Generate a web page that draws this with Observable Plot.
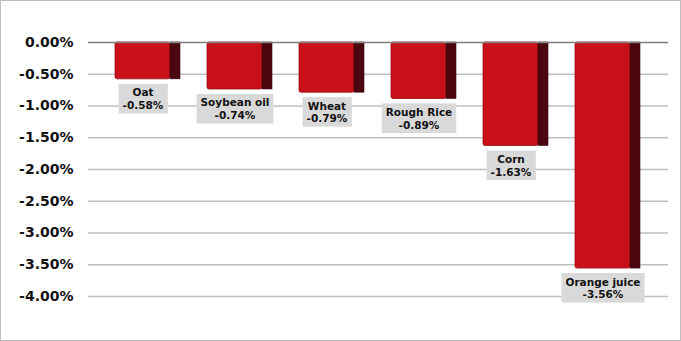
<!DOCTYPE html>
<html><head><meta charset="utf-8">
<script src="https://cdn.jsdelivr.net/npm/d3@7"></script>
<script src="https://cdn.jsdelivr.net/npm/@observablehq/plot@0.6"></script>
<style>
html,body{margin:0;padding:0;background:#fff;}
#wrap{position:relative;width:681px;height:341px;overflow:hidden;}
#border{position:absolute;left:0;top:0;width:681px;height:341px;box-sizing:border-box;border:1px solid #bfbfbf;pointer-events:none;}
svg{display:block;}
</style></head>
<body>
<div id="wrap"><div id="border"></div></div>
<script>
const categories = ["Oat", "Soybean oil", "Wheat", "Rough Rice", "Corn", "Orange juice"];
const values = [-0.58, -0.74, -0.79, -0.89, -1.63, -3.56];
const yTicks = [0, -0.5, -1, -1.5, -2, -2.5, -3, -3.5, -4];

const data = categories.map((c, i) => ({cat: c, v: values[i], label: c + "\n" + values[i].toFixed(2) + "%"}));

const chart = Plot.plot({
  width: 681, height: 341,
  marginLeft: 88, marginRight: 13, marginTop: 42, marginBottom: 45,
  style: {fontFamily: "DejaVu Sans", background: "transparent"},
  x: {domain: categories, padding: 0.29, axis: null},
  y: {domain: [-4, 0], ticks: yTicks, tickFormat: d => d.toFixed(2) + "%", label: null, tickSize: 0, tickPadding: 15},
  marks: [
    Plot.ruleY(yTicks.filter(d => d !== 0), {stroke: "#bfbfbf", strokeWidth: 1.5, strokeOpacity: 1}),
    Plot.barY(data, {x: "cat", y: "v", fill: "#c8101b", insetRight: 10, stroke: "#9a0c14", strokeWidth: 0.8, rx: 2}),
    Plot.barY(data, {x: "cat", y: "v", fill: "#4a0710", insetLeft: 55, stroke: "#3a050b", strokeWidth: 0.6}),
    Plot.ruleY([0], {stroke: "#7f7f7f", strokeWidth: 1.5}),
    Plot.text(data, {x: "cat", y: "v", text: "label", dx: -5, dy: 8, lineAnchor: "top", lineHeight: 1.2,
      fontSize: 10.5, fontWeight: "bold", fill: "#111", textAnchor: "middle", className: "lbl"})
  ]
});
d3.select(chart).selectAll("g[aria-label='y-axis tick label'] text, g[aria-label='y-axis tick label']")
  .attr("font-size", 14).attr("font-weight", "bold").attr("fill", "#111");
document.getElementById("wrap").prepend(chart);

// gray background boxes behind bar labels (measured in screen space)
const lblGroup = chart.querySelector("g.lbl") || chart.querySelector("g[aria-label='text']");
if (lblGroup) {
  const svgRect = chart.getBoundingClientRect();
  const boxG = document.createElementNS("http://www.w3.org/2000/svg", "g");
  chart.insertBefore(boxG, lblGroup);
  lblGroup.querySelectorAll("text").forEach(t => {
    const b = t.getBoundingClientRect();
    const r = document.createElementNS("http://www.w3.org/2000/svg", "rect");
    r.setAttribute("x", b.left - svgRect.left - 4);
    r.setAttribute("y", b.top - svgRect.top - 2.5);
    r.setAttribute("width", b.width + 8);
    r.setAttribute("height", b.height + 5);
    r.setAttribute("fill", "#d9d9d9");
    boxG.appendChild(r);
  });
}
</script>
</body></html>
